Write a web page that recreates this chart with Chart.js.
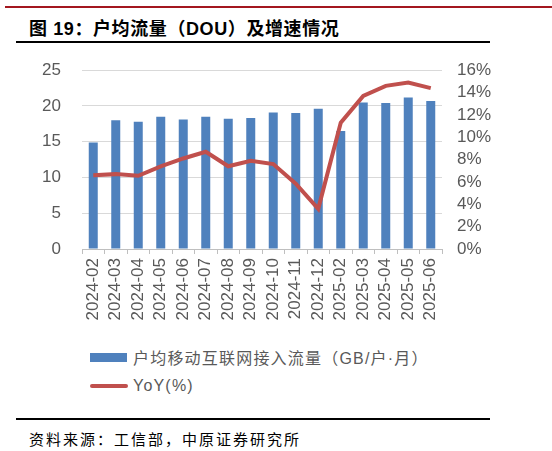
<!DOCTYPE html>
<html>
<head>
  <title>户均流量（DOU）及增速情况</title>
  <script src="https://cdn.jsdelivr.net/npm/chart.js"></script>
  <style>
    body { margin: 0; width: 552px; height: 451px; background: #fff; position: relative; overflow: hidden;
           font-family: "Liberation Sans", Arial, "Noto Sans CJK SC", sans-serif; }
    .abs { position: absolute; }
    .rule-red { top: 6px; left: 5px; width: 547px; height: 2px; background: #a3171f; }
    .rule { left: 16px; width: 474px; height: 2px; background: #000; }
    .title { left: 29px; top: 14px; font-size: 18px; font-weight: bold; color: #000; letter-spacing: 0.6px; }
    .legend-row { left: 90px; display: flex; align-items: center; font-size: 16px; color: #595959; letter-spacing: 1.2px; }
    .source { left: 29px; top: 428px; font-size: 15px; color: #000; letter-spacing: 2px; }
  </style>
</head>
<body>
  <div class="abs rule-red"></div>
  <div class="abs title">图 19：户均流量（DOU）及增速情况</div>
  <div class="abs rule" style="top:41px"></div>
  <div class="abs" style="left:0;top:39px;width:552px;height:301px">
    <canvas id="chart"></canvas>
  </div>
  <div id="legend"></div>
  <div class="abs rule" style="top:418px"></div>
  <div class="abs source">资料来源：工信部，中原证券研究所</div>

  <script>
    const months = ['2024-02', '2024-03', '2024-04', '2024-05', '2024-06', '2024-07', '2024-08', '2024-09',
                    '2024-10', '2024-11', '2024-12', '2025-02', '2025-03', '2025-04', '2025-05', '2025-06'];
    // GB per user per month
    const dou = [14.9, 18.0, 17.8, 18.5, 18.1, 18.5, 18.2, 18.3, 19.1, 19.0, 19.6, 16.5, 20.5, 20.4, 21.2, 20.7];
    // year on year growth, %
    const yoy = [6.6, 6.7, 6.55, 7.4, 8.1, 8.7, 7.4, 7.9, 7.6, 5.85, 3.6, 11.3, 13.7, 14.6, 14.9, 14.4];
    const leftTicks = [0, 25, 5];
    const rightTicks = [0, 16, 2];

    const blue = '#4f81bd';
    const red = '#c0504d';
    const grey = '#595959';

    const chart = new Chart(document.getElementById('chart'), {
      type: 'bar',
      data: {
        labels: months,
        datasets: [
          {
            type: 'line',
            label: 'YoY(%)',
            data: yoy,
            yAxisID: 'y1',
            borderColor: red,
            backgroundColor: red,
            borderWidth: 4,
            pointRadius: 0,
            tension: 0,
            order: 0
          },
          {
            label: '户均移动互联网接入流量（GB/户·月）',
            data: dou,
            yAxisID: 'y',
            backgroundColor: blue,
            barPercentage: 0.4,
            categoryPercentage: 1,
            order: 1
          }
        ]
      },
      options: {
        responsive: true,
        maintainAspectRatio: false,
        animation: false,
        layout: { padding: { top: 8 } },
        plugins: { legend: { display: false }, tooltip: { enabled: false } },
        scales: {
          x: {
            grid: { drawOnChartArea: false, color: '#bfbfbf', tickLength: 5 },
            border: { color: '#bfbfbf' },
            ticks: { color: grey, font: { size: 17 }, minRotation: 90, maxRotation: 90, padding: 4, autoSkip: false },
            afterFit: s => { s.height = 91; }
          },
          y: {
            position: 'left',
            min: leftTicks[0], max: leftTicks[1],
            grid: { color: '#d9d9d9', drawTicks: false },
            border: { display: false },
            ticks: { stepSize: leftTicks[2], color: grey, font: { size: 17 }, padding: 21, autoSkip: false },
            afterFit: s => { s.width = 82; }
          },
          y1: {
            position: 'right',
            min: rightTicks[0], max: rightTicks[1],
            grid: { drawOnChartArea: false, drawTicks: false },
            border: { display: false },
            ticks: { stepSize: rightTicks[2], color: grey, font: { size: 17 }, padding: 15, autoSkip: false,
                     callback: v => v + '%' },
            afterFit: s => { s.width = 110; }
          }
        }
      }
    });

    // legend below the chart, built from the datasets
    const legend = document.getElementById('legend');
    const bars = chart.data.datasets[1], line = chart.data.datasets[0];
    legend.innerHTML = `
      <div class="abs legend-row" style="top:345px">
        <span style="display:inline-block;width:37px;height:9px;background:${bars.backgroundColor};margin-right:6px"></span>${bars.label}
      </div>
      <div class="abs legend-row" style="top:377px">
        <span style="display:inline-block;width:38px;height:4px;border-radius:2px;background:${line.borderColor};margin-right:5px"></span>${line.label}
      </div>`;
  </script>
</body>
</html>
